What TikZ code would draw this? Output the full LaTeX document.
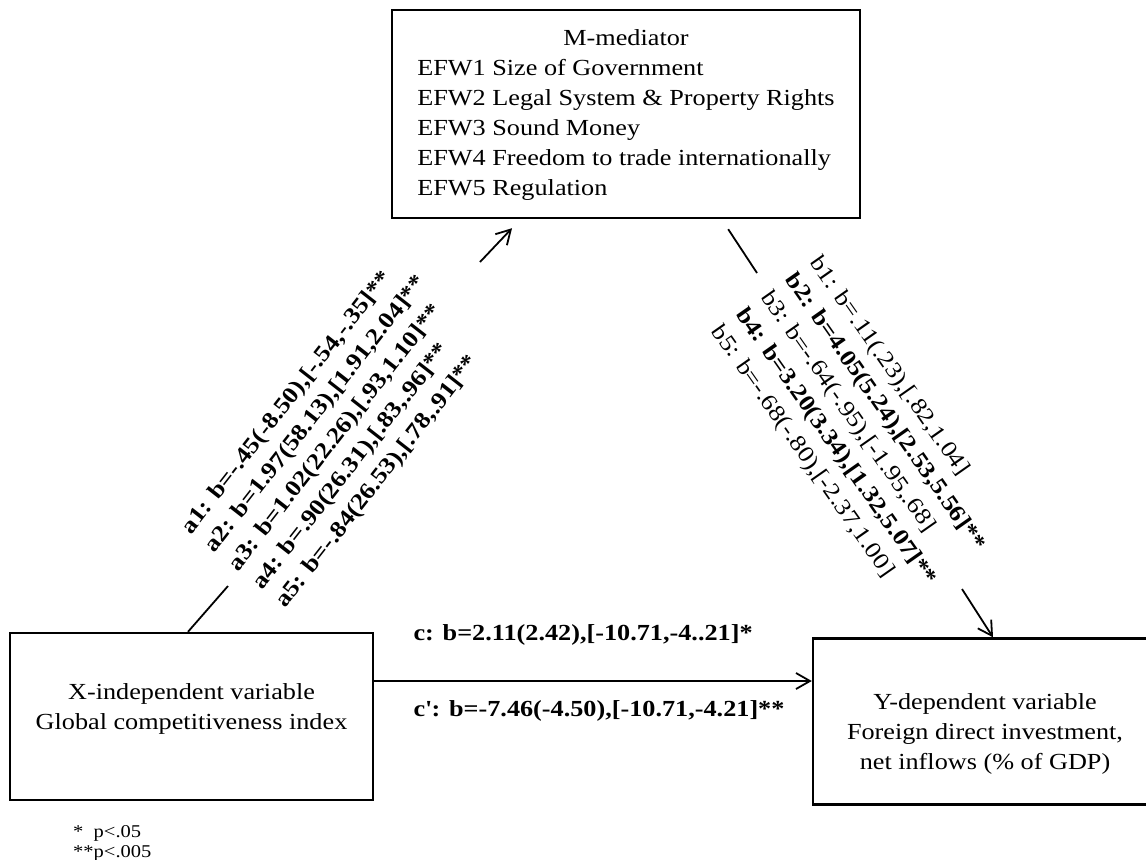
\documentclass[tikz,border=0pt]{standalone}
\usepackage{fontspec}
\setmainfont{Liberation Serif}[FakeStretch=1.14]
\usetikzlibrary{arrows.meta,positioning}

\newcommand\bodysize{\fontsize{11.5}{15}\selectfont}
\newcommand\notesize{\fontsize{9}{10}\selectfont}

\begin{document}
\begin{tikzpicture}[x=0.5pt,y=-0.5pt,
    every node/.style={font=\bodysize},
    varbox/.style={draw,line width=1.2pt,inner sep=0pt,align=center},
    boxtext/.style={inner sep=0pt,align=center},
    link/.style={line width=0.9pt},
    tip/.style={-{Straight Barb[length=7pt,width=8pt]}},
    coef/.style={inner sep=0pt,align=left,font=\bodysize\bfseries},
    note/.style={inner sep=0pt,align=left,font=\notesize}]
  \clip (0,0) rectangle (1146,859);
  % boxes
  \node[varbox, minimum width=234pt, minimum height=104pt] (M) at (626,114)
    {\begin{tabular}{@{}l@{ }l@{}}
       \multicolumn{2}{@{}c@{}}{M-mediator}\\
       EFW1 & Size of Government\\
       EFW2 & Legal System \& Property Rights\\
       EFW3 & Sound Money\\
       EFW4 & Freedom to trade internationally\\
       EFW5 & Regulation
     \end{tabular}};
  \node[varbox, minimum width=181.5pt, minimum height=83.5pt] (X) at (191.5,716.5) {};
  \node[boxtext] (Xtext) at ([yshift=4pt]X.center)
    {X-independent variable\\Global competitiveness index};
  \node[varbox, minimum width=172pt, minimum height=83pt] (Y) at (985,721.5) {};
  \node[boxtext] (Ytext) at ([yshift=-6pt]Y.center)
    {Y-dependent variable\\Foreign direct investment,\\net inflows (\% of GDP)};
  % paths, broken where the coefficients sit
  \coordinate (aLo) at (228,586);
  \coordinate (aHi) at (480,262);
  \coordinate (bLo) at (757,273);
  \coordinate (bHi) at (962,589);
  \coordinate (cStart) at ([yshift=17.75pt]X.east);
  \draw[link,tip] ([xshift=-1.75pt]X.north) -- (aLo) (aHi) -- ([xshift=-57pt,yshift=-4.5pt]M.south);
  \draw[link,tip] ([xshift=-66.5pt,yshift=-5pt]M.south east) -- (bLo) (bHi) -- ([xshift=4pt]Y.north);
  \draw[link,tip] (cStart) -- (cStart -| Y.west);
  % coefficients
  \node[coef, rotate=52] (alabels) at (340,433)
    {a1: b=-.45(-8.50),[-.54,-.35]**\\
     a2: b=1.97(58.13),[1.91,2.04]**\\
     a3: b=1.02(22.26),[.93,1.10]**\\
     a4: b=.90(26.31),[.83,.96]**\\
     a5: b=-.84(26.53),[.78,.91]**};
  \node[coef, font=\bodysize, rotate=-55] (blabels) at (860,430)
    {b1: b=.11(.23),[.82,1.04]\\
     \textbf{b2: b=4.05(5.24),[2.53,5.56]**}\\
     b3: b=-.64(-.95),[-1.95,.68]\\
     \textbf{b4: b=3.20(3.34),[1.32,5.07]**}\\
     b5: b=-.68(-.80),[-2.37,1.00]};
  \node[coef, anchor=base west] (c) at ([xshift=19.5pt,yshift=20.5pt]cStart)
    {c: b=2.11(2.42),[-10.71,-4..21]*};
  \node[coef, anchor=base west] (cprime) at ([xshift=19.5pt,yshift=-17.5pt]cStart)
    {c\textquotesingle: b=-7.46(-4.50),[-10.71,-4.21]**};
  % significance
  \node[note, below right=12pt and 32pt of X.south west] (sig) {*\ \ p<.05\\**p<.005};
\end{tikzpicture}
\end{document}
